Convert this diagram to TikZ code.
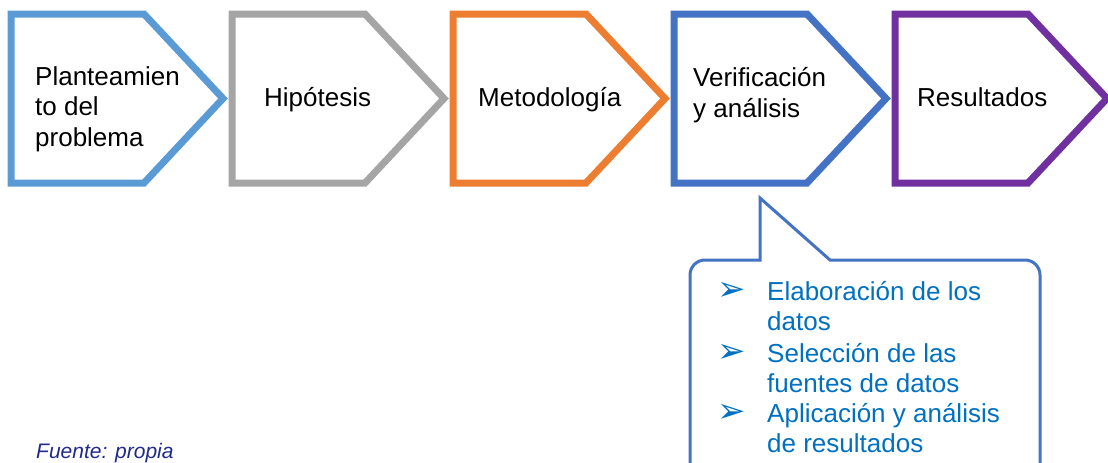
\documentclass[tikz,border=0pt]{standalone}
\usepackage{fontspec}
\setmainfont{Liberation Sans}
\newfontfamily\dingfont{DejaVu Sans}
\usetikzlibrary{positioning}

\definecolor{stageA}{HTML}{5B9BD5}
\definecolor{stageB}{HTML}{A5A5A5}
\definecolor{stageC}{HTML}{ED7D31}
\definecolor{stageD}{HTML}{4472C4}
\definecolor{stageE}{HTML}{7030A0}
\definecolor{itemblue}{HTML}{0070C0}
\definecolor{navy}{HTML}{202A8C}

\begin{document}
\begin{tikzpicture}[x=1pt, y=-1pt,
  every node/.style={inner sep=0pt, anchor=base west, align=left, font=\fontsize{26}{30.5}\selectfont},
  stage/.style={line width=7pt, line join=miter},
  callout/.style={draw=stageD, line width=3pt, fill=white}]
  \useasboundingbox (0,0) rectangle (1108,463);
  \clip (0,0) rectangle (1108,463);

  % Draw the stages
  \foreach \i/\x/\c in {1/11/stageA, 2/232/stageB, 3/453/stageC, 4/674/stageD, 5/895/stageE} {
    \draw[stage, draw=\c] (\x,14) -- ++(133,0) -- ++(79,84.5) -- ++(-79,84.5) -- ++(-133,0) -- cycle;
  }

  % Stage labels (multi-line ones sit on their last baseline)
  \node (s1) at (35,146) {Planteamien\\to del\\problema};
  \node (s2) at (264,106) {Hipótesis};
  \node (s3) at (478,106) {Metodología};
  \node (s4) at (693,117) {Verificación\\y análisis};
  \node (s5) at (917,106) {Resultados};

  % Callout under the fourth stage
  \draw[callout] (760,198) -- (830,260) [rounded corners=15] -- (1040,260) -- (1040,490) -- (690,490) -- (690,260) [sharp corners] -- (760,260) -- cycle;

  \foreach \i/\y/\t in {1/300/{Elaboración de los\\datos}, 2/362/{Selección de las\\fuentes de datos}, 3/422/{Aplicación y análisis\\de resultados}} {
    \node[text=itemblue] (e\i) at (767,\y+30.5) {\t};
    \node[text=itemblue, font=\dingfont\fontsize{34}{34}\selectfont] (b\i) at (717,\y) {➢};
  }

  \node[text=navy, font=\itshape\fontsize{21}{24}\selectfont] (src) at (36,458) {Fuente: propia};
\end{tikzpicture}
\end{document}
